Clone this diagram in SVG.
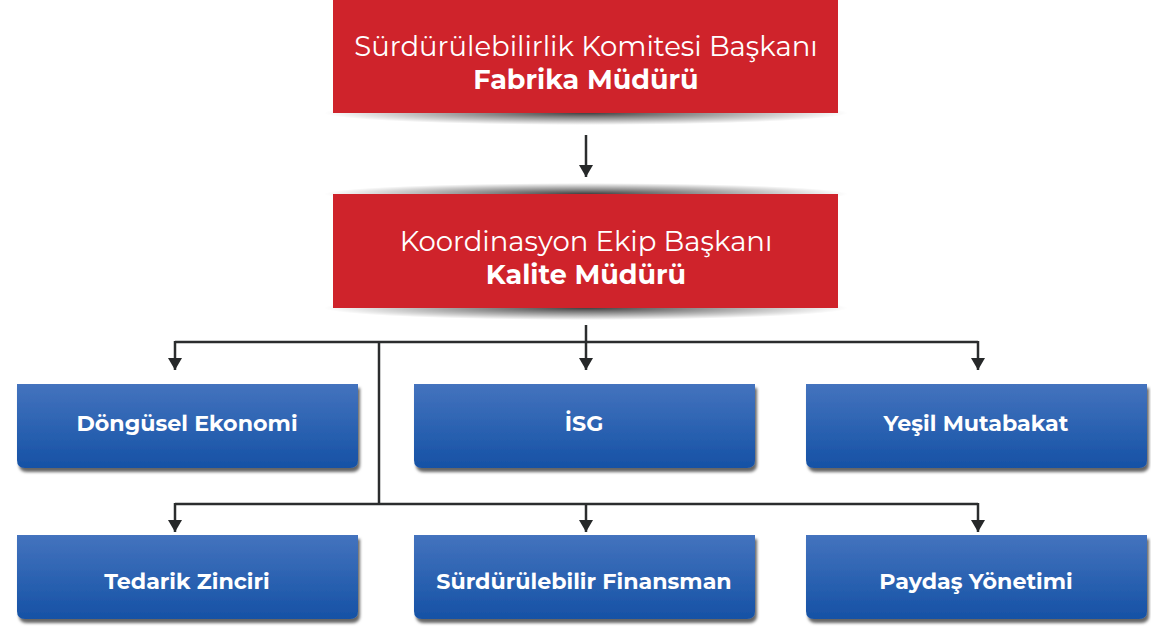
<svg xmlns="http://www.w3.org/2000/svg" width="1151" height="629" viewBox="0 0 1151 629">
<defs>
<linearGradient id="blue" x1="0" y1="0" x2="0" y2="1">
<stop offset="0" stop-color="#4473be"/>
<stop offset="0.5" stop-color="#2c63b2"/>
<stop offset="1" stop-color="#1651a5"/>
</linearGradient>
<radialGradient id="sh">
<stop offset="0" stop-color="#000" stop-opacity="0.75"/>
<stop offset="0.6" stop-color="#000" stop-opacity="0.3"/>
<stop offset="1" stop-color="#000" stop-opacity="0"/>
</radialGradient>
<filter id="ds" x="-5%" y="-10%" width="110%" height="130%">
<feDropShadow dx="2" dy="4" stdDeviation="1.8" flood-color="#000" flood-opacity="0.6"/>
</filter>
<marker id="ah" markerWidth="14" markerHeight="14" refX="12" refY="7" orient="auto" markerUnits="userSpaceOnUse" viewBox="0 0 14 14">
<path d="M0,0 L12,7 L0,14 Z" fill="#262829"/>
</marker>
<path id="bb" d="M0,0 H341 V76 Q341,84 333,84 H8 Q0,84 0,76 Z"/>
</defs>
<style>
.red{fill:#cf232b}
.rt{font-family:"Montserrat","Open Sans","Noto Sans",sans-serif;fill:#fff;text-anchor:middle;font-size:27.5px}
.rb{font-weight:700;font-size:27px}
.bt{font-family:"Montserrat","Open Sans","Noto Sans",sans-serif;fill:#fff;text-anchor:middle;font-size:22.2px;font-weight:700}
.ln{fill:none;stroke:#2b2d2e;stroke-width:2.5}
</style>
<rect width="1151" height="629" fill="#fff"/>

<g id="connectors">
<path class="ln" d="M586,135 V177" marker-end="url(#ah)"/>
<path class="ln" d="M586,325 V370" marker-end="url(#ah)"/>
<path class="ln" d="M175,342 H978"/>
<path class="ln" d="M175,341 V370" marker-end="url(#ah)"/>
<path class="ln" d="M978,341 V370" marker-end="url(#ah)"/>
<path class="ln" d="M379,342 V504"/>
<path class="ln" d="M175,504 H978"/>
<path class="ln" d="M175,503 V532" marker-end="url(#ah)"/>
<path class="ln" d="M586,503 V532" marker-end="url(#ah)"/>
<path class="ln" d="M978,503 V532" marker-end="url(#ah)"/>
</g>

<g id="node-fabrika">
<ellipse cx="586" cy="113" rx="262" ry="12" fill="url(#sh)"/>
<rect class="red" x="333" y="0" width="505" height="113"/>
<text class="rt" x="586" y="56">Sürdürülebilirlik Komitesi Başkanı</text>
<text class="rt rb" x="586" y="89">Fabrika Müdürü</text>
</g>

<g id="node-kalite">
<ellipse cx="586" cy="194" rx="262" ry="11" fill="url(#sh)"/>
<ellipse cx="586" cy="308" rx="262" ry="12" fill="url(#sh)"/>
<rect class="red" x="333" y="194" width="505" height="114"/>
<text class="rt" x="586" y="251">Koordinasyon Ekip Başkanı</text>
<text class="rt rb" x="586" y="284">Kalite Müdürü</text>
</g>

<g id="node-dongusel" transform="translate(17,384)">
<use href="#bb" fill="url(#blue)" filter="url(#ds)"/>
<text class="bt" x="170" y="47">Döngüsel Ekonomi</text>
</g>
<g id="node-isg" transform="translate(414,384)">
<use href="#bb" fill="url(#blue)" filter="url(#ds)"/>
<text class="bt" x="170" y="47">İSG</text>
</g>
<g id="node-yesil" transform="translate(806,384)">
<use href="#bb" fill="url(#blue)" filter="url(#ds)"/>
<text class="bt" x="170" y="47">Yeşil Mutabakat</text>
</g>
<g id="node-tedarik" transform="translate(17,535)">
<use href="#bb" fill="url(#blue)" filter="url(#ds)"/>
<text class="bt" x="170" y="54">Tedarik Zinciri</text>
</g>
<g id="node-finansman" transform="translate(414,535)">
<use href="#bb" fill="url(#blue)" filter="url(#ds)"/>
<text class="bt" x="170" y="54">Sürdürülebilir Finansman</text>
</g>
<g id="node-paydas" transform="translate(806,535)">
<use href="#bb" fill="url(#blue)" filter="url(#ds)"/>
<text class="bt" x="170" y="54">Paydaş Yönetimi</text>
</g>
</svg>
